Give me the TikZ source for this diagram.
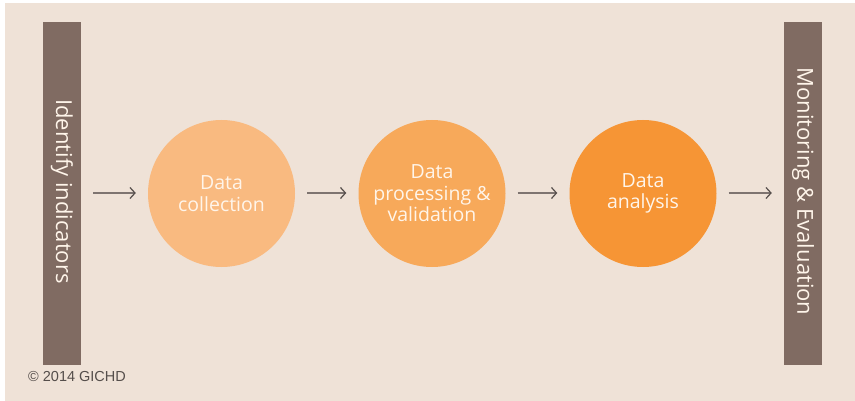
\documentclass[tikz,border=0pt]{standalone}
\usepackage{fontspec}
\setmainfont{Open Sans}
\newfontfamily\copyfont{Liberation Sans}
\usetikzlibrary{arrows.meta}
\definecolor{bgcol}{HTML}{EFE2D7}
\definecolor{barcol}{HTML}{806B62}
\definecolor{circA}{HTML}{F9BA80}
\definecolor{circB}{HTML}{F7A95A}
\definecolor{circC}{HTML}{F69535}
\definecolor{txtcol}{HTML}{FFF5EA}
\definecolor{arrcol}{HTML}{7E7470}
\definecolor{copycol}{HTML}{554E4B}
\begin{document}
\begin{tikzpicture}[x=1pt,y=-1pt,
  sidebar/.style={fill=barcol, minimum width=38pt, minimum height=343pt, inner sep=0pt},
  sidetext/.style={text=txtcol, font=\fontsize{22}{26}\selectfont, rotate=-90},
  stepcirc/.style={circle, minimum size=147pt, inner sep=0pt, text=txtcol, align=center,
    font=\fontsize{19.5}{21.5}\selectfont},
  flow/.style={draw=arrcol, line width=1.2pt, -{Straight Barb[length=5pt,width=11pt,line width=1.2pt,color=copycol]}, shorten <=12pt, shorten >=12pt}]
\useasboundingbox (0,0) rectangle (855,401);
\fill[white] (0,0) rectangle (855,401);
\fill[bgcol] (5,3) rectangle (855,401);
\node[sidebar] (left) at (62,193.5) {};
\node[sidetext] (lefttext) at (62,191.5) {Identify indicators};
\node[sidebar] (right) at (803,193.5) {};
\node[sidetext] (righttext) at (803,191.5) {Monitoring \& Evaluation};
\node[stepcirc, fill=circA] (c1) at (221.5,193.5) {Data\\collection};
\node[stepcirc, fill=circB] (c2) at (432,193.5) {Data\\processing \&\\validation};
\node[stepcirc, fill=circC] (c3) at (643,193.5) {Data\\analysis};
\draw[flow] (left.east |- 0,193) -- (c1.west |- 0,193);
\draw[flow] (c1.east |- 0,193) -- (c2.west |- 0,193);
\draw[flow] (c2.east |- 0,193) -- (c3.west |- 0,193);
\draw[flow] (c3.east |- 0,193) -- (right.west |- 0,193);
\node[anchor=west, text=copycol, font=\copyfont\fontsize{14.5}{17}\selectfont, inner sep=0pt] (copy) at (28,377) {\textcopyright{} 2014 GICHD};
\end{tikzpicture}
\end{document}
